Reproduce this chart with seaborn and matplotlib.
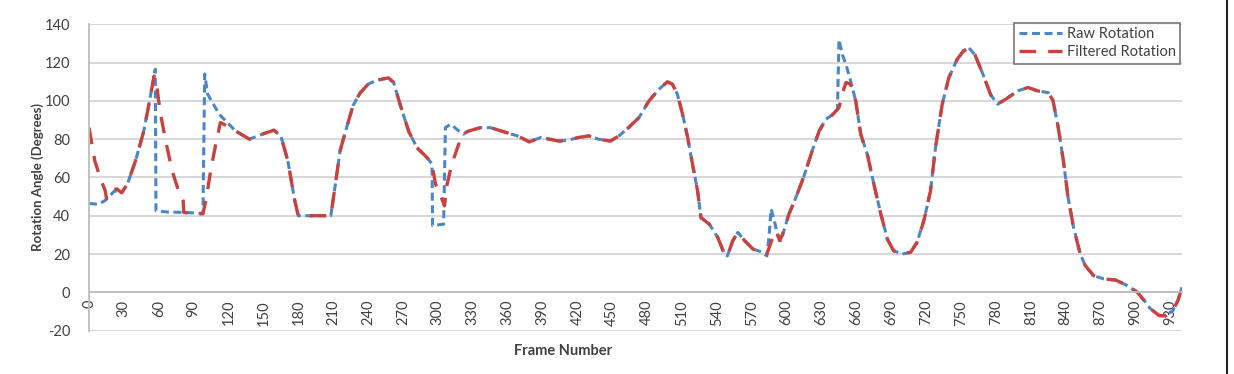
import matplotlib
matplotlib.use("Agg")
import matplotlib.pyplot as plt
from matplotlib.lines import Line2D
import seaborn as sns
import numpy as np

# ---------------- data ----------------
raw_frames = [0, 8, 14, 22, 28, 33, 40, 47, 51, 57, 57.6, 66, 83, 98, 99.5, 102, 112, 126, 138, 149,
              159, 165, 171, 177, 180, 195, 208, 211.5, 216, 221.5, 227, 233, 240, 247.5, 257.5, 262,
              267.6, 275, 282, 290.7, 295, 295.5, 305, 306.5, 311, 318, 322, 326.7, 336.8, 345.5, 357,
              368.5, 378.6, 388.7, 392, 404, 412.5, 421, 430, 438, 448.5, 455.7, 464, 473, 481.6, 490,
              497.5, 501.8, 506, 510.5, 514.8, 519, 523.4, 526.3, 533.5, 540.7, 546.5, 549, 553.7, 558,
              563.8, 571, 578, 583, 585, 586.6, 589.4, 592, 595, 602, 608, 615, 622, 628, 633.7, 639.4,
              643.7, 645, 648, 651, 655, 659.4, 663.7, 669.4, 675, 681, 686.6, 692, 699.4, 706.6, 712,
              718, 723.7, 728, 733.7, 739.4, 746.6, 752, 756.6, 762, 769, 775.6, 781.5, 788.7, 798.8,
              807.5, 816, 825, 829, 833.6, 838, 842, 846.7, 852.5, 856.8, 864, 872.8, 883, 893, 901.7,
              907.5, 913, 920.6, 926, 932, 936.5, 940]
raw_angle = [46.4, 46, 48, 53, 52, 56.5, 68.7, 84, 96.5, 116.5, 42.6, 42, 41.7, 41.2, 114, 103.5, 93, 84.3, 80, 82.6,
             84.7, 81.7, 68.7, 47.8, 40, 40, 40, 54.8, 74, 86, 97.4, 104, 108.7, 110.8, 112, 109.6,
             98, 84, 75.6, 70.4, 67, 34.8, 35.6, 86, 87.8, 84.3, 82.6, 84.3, 86, 86, 83.8,
             81.7, 78.6, 80.9, 80.5, 79, 79.5, 80.9, 81.7, 80, 79, 81.7, 86, 91.3, 100, 106,
             110, 108.7, 103.5, 93, 81, 67, 53, 39, 35.6, 28.7, 20, 19, 27, 31.3,
             27, 22.6, 21.2, 19, 30.4, 43.5, 37.4, 30.4, 27, 40.9, 49.6, 60.9, 74, 84.3, 90.4, 92.7,
             95.6, 132, 124, 119, 110.4, 100, 82.6, 72, 56.5, 40.9, 27.8, 21.7, 20, 20.9, 26,
             37.4, 53, 75.6, 98, 112, 121.7, 126, 127.8, 124, 113.6, 103, 98.3, 101, 105.2,
             107, 105.2, 104.3, 100.3, 86, 68.7, 49.6, 34, 20, 14, 8.7, 7, 6.4, 3.5, 0,
             -4.3, -8.7, -12.2, -12.2, -9.6, -4.3, 2.6]

filt_frames = [0, 2, 5, 9.5, 14, 15, 18, 20, 24, 28, 33, 40, 47, 51, 56, 58.5, 61, 66, 71.5, 77, 81, 81.5,
               94.5, 98, 101, 104.6, 109, 113, 120, 126, 138, 149, 159, 165, 171, 177, 180, 195, 208,
               211.5, 216, 221.5, 227, 233, 240, 247.5, 257.5, 262, 267.6, 275, 282, 290.7, 295, 298,
               302, 305.7, 308, 312, 318, 321, 326.7, 336.8, 345.5, 357, 368.5, 378.6, 388.7, 392, 404,
               412.5, 421, 430, 438, 448.5, 455.7, 464, 473, 481.6, 490, 497.5, 501.8, 506, 510.5,
               514.8, 519, 523.4, 526.3, 533.5, 540.7, 546.5, 549, 553.7, 558, 563.8, 571, 578, 583,
               588, 591, 594, 596.6, 602, 608, 615, 622, 628, 633.7, 639.4, 643.7, 645, 648, 651, 655,
               659.4, 663.7, 669.4, 675, 681, 686.6, 692, 699.4, 706.6, 712, 718, 723.7, 728, 733.7,
               739.4, 746.6, 752, 756.6, 762, 769, 775.6, 781.5, 788.7, 798.8, 807.5, 816, 825, 829,
               833.6, 838, 842, 846.7, 852.5, 856.8, 864, 872.8, 883, 893, 901.7, 907.5, 913, 920.6,
               926, 932, 936.5, 940]
filt_angle = [86, 79, 68.7, 60, 53, 49, 52.5, 53.4, 54, 52, 56.5, 68.7, 84, 96.5, 113, 107, 94.8, 79, 63.5, 53, 47.8, 41.7,
              41, 41, 49.6, 63.5, 77.4, 88.7, 86.5, 84.3, 80, 82.6, 84.7, 81.7, 68.7, 47.8, 40, 40, 40,
              54.8, 74, 86, 97.4, 104, 108.7, 110.8, 112, 109.6, 98, 84, 75.6, 70.4, 67, 56.5,
              51.3, 45.2, 56.5, 67, 77.4, 82.6, 84.3, 86, 86, 83.8, 81.7, 78.6, 80.9, 80.5, 79,
              79.5, 80.9, 81.7, 80, 79, 81.7, 86, 91.3, 100, 106, 110, 108.7, 103.5, 93,
              81, 67, 53, 39, 35.6, 28.7, 20, 19, 27, 31.3, 27, 22.6, 21.2, 20,
              28.7, 32, 27, 30.4, 40.9, 49.6, 60.9, 74, 84.3, 90.4, 92.7, 95.6, 96.5, 104, 109.6, 108.7,
              100, 82.6, 72, 56.5, 40.9, 27.8, 21.7, 20, 20.9, 26, 37.4, 53, 75.6, 98,
              112, 121.7, 126, 127.8, 124, 113.6, 103, 98.3, 101, 105.2, 107, 105.2, 104.3, 100.3,
              86, 68.7, 49.6, 34, 20, 14, 8.7, 7, 6.4, 3.5, 0, -4.3, -8.7, -12.2,
              -12.2, -9.6, -4.3, 2.6]

x_ticks = list(range(0, 931, 30))
y_ticks = list(range(-20, 141, 20))
series_labels = ["Raw Rotation", "Filtered Rotation"]
x_label = "Frame Number"
y_label = "Rotation Angle (Degrees)"

# ---------------- styling ----------------
sns.set_style("white")
plt.rcParams["font.family"] = ["Lato", "DejaVu Sans"]

W, H = 1234, 374
fig = plt.figure(figsize=(W / 100, H / 100), dpi=100)
ax = fig.add_axes([89 / W, 1 - 330.6 / H, (1182 - 89) / W, (330.6 - 24.3) / H])

blue = "#4A86C8"
red = "#C8423F"
grid_c = "#D4D4D4"
axis_c = "#BDBDBD"
text_c = "#404040"

sns.lineplot(x=raw_frames, y=raw_angle, estimator=None, sort=False, color=blue,
             linewidth=2.2, ax=ax, label=series_labels[0])
sns.lineplot(x=filt_frames, y=filt_angle, estimator=None, sort=False, color=red,
             linewidth=2.4, ax=ax, label=series_labels[1])
ax.lines[0].set_dashes([2.6, 1.5])
ax.lines[1].set_dashes([5.0, 3.6])

ax.set_xlim(0, 940)
ax.set_ylim(-20, 140)

for s in ["top", "right"]:
    ax.spines[s].set_visible(False)
ax.spines["bottom"].set_position(("data", 0))
ax.spines["bottom"].set_color(axis_c)
ax.spines["bottom"].set_linewidth(1.3)
ax.spines["left"].set_color(axis_c)
ax.spines["left"].set_linewidth(1.3)

ax.set_xticks(x_ticks)
ax.set_xticklabels([str(v) for v in x_ticks])
ax.set_yticks(y_ticks)
ax.set_yticklabels([str(v) for v in y_ticks])
ax.tick_params(axis="x", direction="out", length=4, width=1.2, color=axis_c, pad=1.5,
               labelrotation=90, labelsize=10.5, labelcolor=text_c)
ax.tick_params(axis="y", direction="out", length=4.5, width=1.2, color=axis_c, pad=9,
               labelsize=10.5, labelcolor=text_c)
for lbl in ax.get_xticklabels():
    lbl.set_va("top")
    lbl.set_ha("center")

ax.grid(axis="y", color=grid_c, linewidth=1.3)
ax.grid(axis="x", visible=False)
ax.set_axisbelow(True)
ax.set_xlabel("")
ax.set_ylabel("")

leg = ax.legend(loc="upper right", bbox_to_anchor=(1180 / W, 1 - 22.7 / H),
                bbox_transform=fig.transFigure, borderaxespad=0, fontsize=10.5,
                handlelength=3.0, handletextpad=0.3, borderpad=0.3, labelspacing=0.3,
                fancybox=False, frameon=True)
leg.get_frame().set_edgecolor("#555555")
leg.get_frame().set_linewidth(1.2)
for t in leg.get_texts():
    t.set_color(text_c)

fig.text(38 / W, 1 - 177 / H, y_label, rotation=90, ha="center", va="center",
         fontsize=9.5, fontweight="bold", color=text_c)
fig.text(563 / W, 1 - 351 / H, x_label, ha="center", va="center",
         fontsize=10.5, fontweight="bold", color=text_c)

fig.add_artist(Line2D([1227 / W, 1227 / W], [0, 1], transform=fig.transFigure,
                      color="#222222", linewidth=1.5))

fig.savefig("out.png", dpi=100)
